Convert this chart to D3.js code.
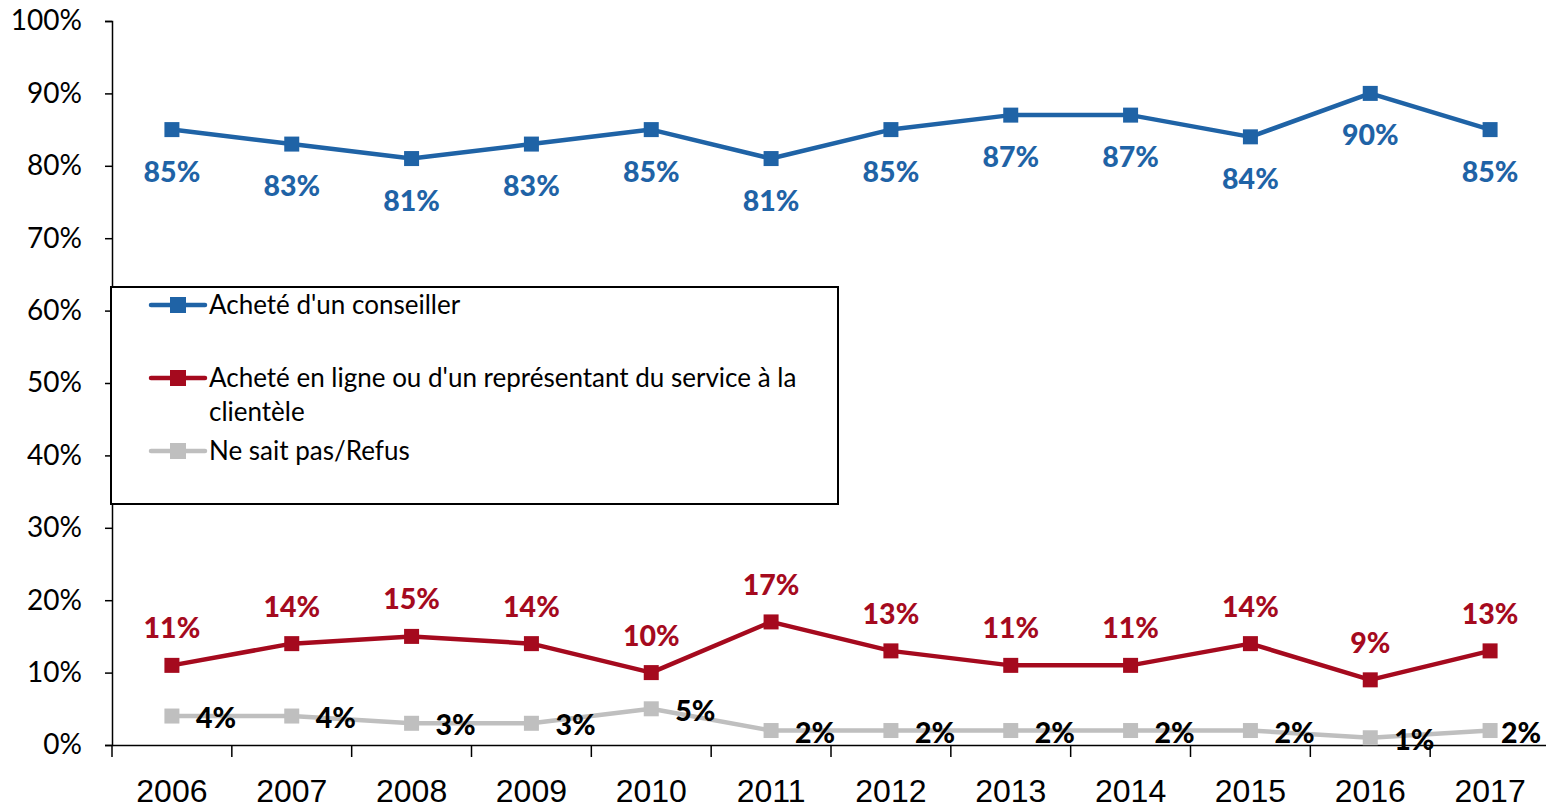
<!DOCTYPE html>
<html>
<head>
<meta charset="utf-8">
<script src="https://cdn.jsdelivr.net/npm/d3@7"></script>
<style>
  html, body { margin: 0; padding: 0; background: #fff; }
  svg { display: block; font-family: Lato, "Open Sans", sans-serif; }
</style>
</head>
<body>
<div id="chart"></div>
<script>
const width = 1546;
const height = 808;

const years = ["2006", "2007", "2008", "2009", "2010", "2011", "2012", "2013", "2014", "2015", "2016", "2017"];
const conseiller = [85, 83, 81, 83, 85, 81, 85, 87, 87, 84, 90, 85];
const enLigne = [11, 14, 15, 14, 10, 17, 13, 11, 11, 14, 9, 13];
const nsp = [4, 4, 3, 3, 5, 2, 2, 2, 2, 2, 1, 2];
const yTicks = [0, 10, 20, 30, 40, 50, 60, 70, 80, 90, 100];

const series = [
  { name: "Acheté d'un conseiller", values: conseiller, color: "#1F63A6", labelColor: "#1F63A6", pos: "below" },
  { name: "Acheté en ligne ou d'un représentant du service à la clientèle", values: enLigne, color: "#A50A1E", labelColor: "#A50A1E", pos: "above" },
  { name: "Ne sait pas/Refus", values: nsp, color: "#BFBFBF", labelColor: "#000", pos: "right" }
];

const svg = d3.select("#chart").append("svg")
  .attr("width", width)
  .attr("height", height)
  .attr("viewBox", [0, 0, width, height]);

const xScale = d3.scaleBand()
  .domain(years)
  .range([112, 1550]);

const yScale = d3.scaleLinear()
  .domain([0, 100])
  .range([745, 21]);

// y axis
const yAxis = svg.append("g")
  .attr("transform", "translate(112,0)")
  .call(d3.axisLeft(yScale).tickValues(yTicks).tickFormat(d => d + "%").tickSize(7).tickPadding(23));
yAxis.select(".domain").attr("stroke", "#000").attr("stroke-width", 1.5);
yAxis.selectAll(".tick line").attr("stroke", "#000").attr("stroke-width", 1.5);
yAxis.selectAll(".tick text")
  .attr("font-size", 28)
  .attr("fill", "#000")
  .attr("font-family", "Lato, sans-serif");

// x axis
const xAxis = svg.append("g")
  .attr("transform", "translate(0,745)")
  .call(d3.axisBottom(xScale).tickSize(0).tickPadding(34));
xAxis.select(".domain").attr("stroke", "#000").attr("stroke-width", 1.5);
xAxis.selectAll(".tick text")
  .attr("font-size", 32)
  .attr("fill", "#000");

// boundary ticks on the x axis
xAxis.selectAll(".bound")
  .data(years.concat(["end"]))
  .join("line")
    .attr("class", "bound")
    .attr("x1", (d, i) => 112 + i * xScale.bandwidth())
    .attr("x2", (d, i) => 112 + i * xScale.bandwidth())
    .attr("y1", 0)
    .attr("y2", 12)
    .attr("stroke", "#000")
    .attr("stroke-width", 1.5);

const cx = d => xScale(d) + xScale.bandwidth() / 2;

const lineGen = d3.line()
  .x((d, i) => cx(years[i]))
  .y(d => yScale(d));

const marker = 15;

series.forEach(s => {
  const g = svg.append("g");
  g.append("path")
    .attr("d", lineGen(s.values))
    .attr("fill", "none")
    .attr("stroke", s.color)
    .attr("stroke-width", 4.5)
    .attr("stroke-linejoin", "round");

  g.selectAll("rect")
    .data(s.values)
    .join("rect")
      .attr("x", (d, i) => cx(years[i]) - marker / 2)
      .attr("y", d => yScale(d) - marker / 2)
      .attr("width", marker)
      .attr("height", marker)
      .attr("fill", s.color);

  // right-placed labels that would run off the page are pulled back inside
  const fitsRight = i => cx(years[i]) + 24 + 44 < width;

  g.selectAll("text")
    .data(s.values)
    .join("text")
      .attr("x", (d, i) => s.pos === "right" ? (fitsRight(i) ? cx(years[i]) + 24 : width - 5) : cx(years[i]))
      .attr("y", d => s.pos === "below" ? yScale(d) + 52 : s.pos === "above" ? yScale(d) - 27 : yScale(d) + 12)
      .attr("text-anchor", (d, i) => s.pos === "right" ? (fitsRight(i) ? "start" : "end") : "middle")
      .attr("font-size", 28.5)
      .attr("font-weight", "900")
      .attr("fill", s.labelColor)
      .text(d => d + "%");
});

// legend
const legend = svg.append("g");
legend.append("rect")
  .attr("x", 111)
  .attr("y", 287)
  .attr("width", 727)
  .attr("height", 217)
  .attr("fill", "#fff")
  .attr("stroke", "#000")
  .attr("stroke-width", 2);

const legendRows = [
  { s: series[0], y: 305, lines: ["Acheté d'un conseiller"] },
  { s: series[1], y: 378, lines: ["Acheté en ligne ou d'un représentant du service à la", "clientèle"] },
  { s: series[2], y: 451, lines: ["Ne sait pas/Refus"] }
];

legendRows.forEach(r => {
  legend.append("line")
    .attr("x1", 151).attr("x2", 205)
    .attr("y1", r.y).attr("y2", r.y)
    .attr("stroke", r.s.color)
    .attr("stroke-width", 4.5)
    .attr("stroke-linecap", "round");
  legend.append("rect")
    .attr("x", 170).attr("y", r.y - 8)
    .attr("width", 16).attr("height", 16)
    .attr("fill", r.s.color);
  r.lines.forEach((t, i) => {
    legend.append("text")
      .attr("x", 209)
      .attr("y", r.y + 9 + i * 34)
      .attr("font-size", 26)
      .attr("fill", "#000")
      .text(t);
  });
});
</script>
</body>
</html>
